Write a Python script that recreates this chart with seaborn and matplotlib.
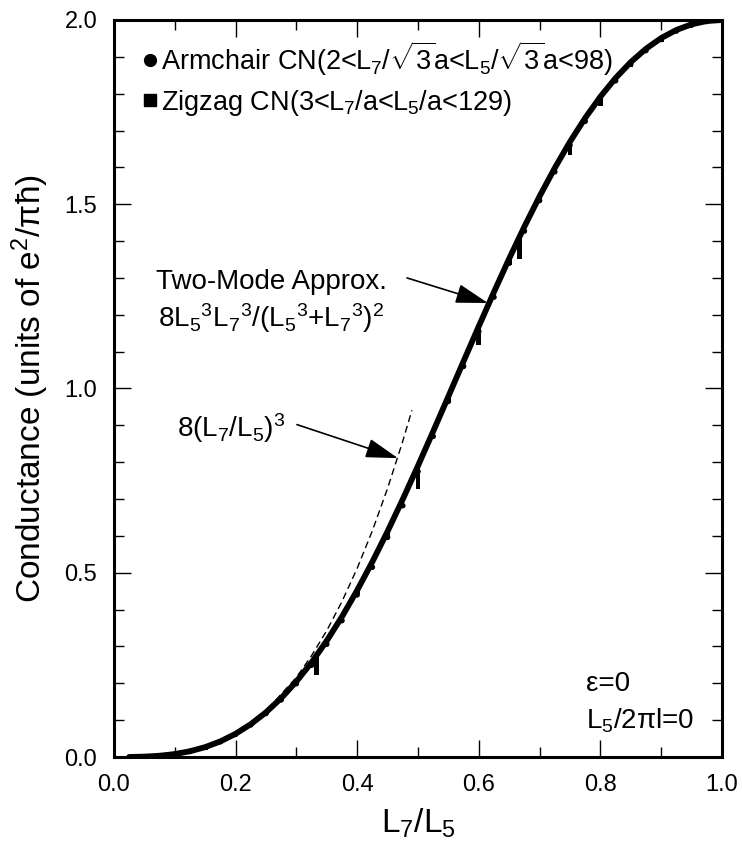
import matplotlib
matplotlib.use("Agg")
import matplotlib.pyplot as plt
from matplotlib.lines import Line2D
from matplotlib.ticker import MultipleLocator
import pandas as pd
import seaborn as sns

# two-mode approximation curve
two_mode_x = [0.025, 0.05, 0.075, 0.1, 0.125, 0.15, 0.175, 0.2, 0.225, 0.25, 0.275, 0.3,
              0.325, 0.35, 0.375, 0.4, 0.425, 0.45, 0.475, 0.5, 0.525, 0.55, 0.575, 0.6,
              0.625, 0.65, 0.675, 0.7, 0.725, 0.75, 0.775, 0.8, 0.825, 0.85, 0.875, 0.9,
              0.925, 0.95, 0.975, 1.0]
two_mode_y = [0.0001, 0.001, 0.0034, 0.008, 0.0156, 0.0268, 0.0424, 0.0630, 0.0891, 0.1212,
              0.1597, 0.2048, 0.2567, 0.3154, 0.3807, 0.4523, 0.5297, 0.6123, 0.6994, 0.7901,
              0.8835, 0.9784, 1.0738, 1.1686, 1.2618, 1.3523, 1.4391, 1.5214, 1.5983, 1.6694,
              1.7339, 1.7917, 1.8423, 1.8857, 1.9219, 1.9509, 1.9729, 1.9882, 1.9971, 2.0]

# small-ratio limit 8(L7/L5)^3 (dashed)
cubic_x = [0.0, 0.05, 0.1, 0.15, 0.2, 0.25, 0.3, 0.325, 0.35, 0.375, 0.4, 0.425, 0.45, 0.475, 0.49]
cubic_y = [0.0, 0.001, 0.008, 0.027, 0.064, 0.125, 0.216, 0.275, 0.343, 0.422, 0.512, 0.614,
           0.729, 0.857, 0.941]

# armchair nanotube points
arm_x = [0.03, 0.05, 0.075, 0.1, 0.125, 0.15, 0.175, 0.2, 0.225, 0.25, 0.275, 0.3, 0.325,
         0.35, 0.375, 0.4, 0.425, 0.45, 0.475, 0.5, 0.525, 0.55, 0.575, 0.6, 0.625, 0.65,
         0.675, 0.7, 0.725, 0.75, 0.775, 0.8, 0.825, 0.85, 0.875, 0.9, 0.925, 0.95, 0.975]
arm_y = [0.0002, 0.001, 0.0034, 0.0078, 0.0153, 0.0262, 0.0416, 0.0615, 0.0872, 0.118,
         0.155, 0.199, 0.249, 0.306, 0.370, 0.440, 0.515, 0.596, 0.682, 0.775, 0.870,
         0.965, 1.060, 1.155, 1.248, 1.340, 1.427, 1.510, 1.588, 1.660, 1.725, 1.784,
         1.835, 1.880, 1.917, 1.947, 1.970, 1.986, 1.996]

# zigzag nanotube points (stacks at simple ratios 1/3, 1/2, 3/5, 2/3, 3/4, 4/5)
zig_x = [0.05, 0.1, 0.15, 0.2, 0.25, 0.3,
         0.333, 0.333, 0.333, 0.333, 0.333, 0.333,
         0.35, 0.4, 0.45,
         0.5, 0.5, 0.5, 0.5, 0.5, 0.5, 0.5,
         0.55,
         0.6, 0.6, 0.6, 0.6, 0.6,
         0.65,
         0.667, 0.667, 0.667, 0.667, 0.667, 0.667, 0.667,
         0.7,
         0.75, 0.75, 0.75, 0.75,
         0.8, 0.8, 0.8,
         0.85, 0.9, 0.95]
zig_y = [0.001, 0.0079, 0.0265, 0.0625, 0.120, 0.203,
         0.268, 0.260, 0.252, 0.244, 0.236, 0.228,
         0.3125, 0.448, 0.606,
         0.787, 0.778, 0.769, 0.760, 0.751, 0.742, 0.733,
         0.970,
         1.165, 1.155, 1.145, 1.135, 1.125,
         1.342,
         1.409, 1.400, 1.391, 1.382, 1.373, 1.364, 1.357,
         1.512,
         1.667, 1.658, 1.649, 1.640,
         1.790, 1.782, 1.774,
         1.880, 1.948, 1.987]

arm_label = r"Armchair CN(2<L$_7$/$\sqrt{3}$a<L$_5$/$\sqrt{3}$a<98)"
zig_label = r"Zigzag CN(3<L$_7$/a<L$_5$/a<129)"

sns.set_style("ticks")
plt.rcParams["font.family"] = ["Liberation Sans", "DejaVu Sans"]
plt.rcParams["mathtext.fontset"] = "custom"
plt.rcParams["mathtext.rm"] = "Liberation Sans"
plt.rcParams["mathtext.it"] = "Liberation Sans"
plt.rcParams["mathtext.sf"] = "Liberation Sans"
plt.rcParams["text.color"] = "black"
plt.rcParams["axes.labelcolor"] = "black"
plt.rcParams["xtick.color"] = "black"
plt.rcParams["ytick.color"] = "black"

fig = plt.figure(figsize=(7.42, 8.5), dpi=100)
ax = fig.add_axes([0.1536, 0.1094, 0.8194, 0.8671])

curve = pd.DataFrame({"x": two_mode_x, "y": two_mode_y})
cubic = pd.DataFrame({"x": cubic_x, "y": cubic_y})
arm = pd.DataFrame({"x": arm_x, "y": arm_y})
zig = pd.DataFrame({"x": zig_x, "y": zig_y})

sns.lineplot(data=cubic, x="x", y="y", ax=ax, color="black", lw=1.0,
             linestyle=(0, (5, 3)), sort=False)
sns.lineplot(data=curve, x="x", y="y", ax=ax, color="black", lw=4.2, sort=False)
sns.scatterplot(data=arm, x="x", y="y", ax=ax, color="black", marker="o", s=16,
                edgecolor="none", legend=False)
sns.scatterplot(data=zig, x="x", y="y", ax=ax, color="black", marker="s", s=12,
                edgecolor="none", legend=False)

ax.set_xlim(0, 1.0)
ax.set_ylim(0, 2.0)
ax.xaxis.set_major_locator(MultipleLocator(0.2))
ax.xaxis.set_minor_locator(MultipleLocator(0.1))
ax.yaxis.set_major_locator(MultipleLocator(0.5))
ax.yaxis.set_minor_locator(MultipleLocator(0.1))
ax.xaxis.set_major_formatter(plt.FormatStrFormatter("%.1f"))
ax.yaxis.set_major_formatter(plt.FormatStrFormatter("%.1f"))
ax.tick_params(which="both", direction="in", top=True, right=True, color="black",
               labelcolor="black")
ax.tick_params(which="major", length=12, width=1.0, labelsize=17, pad=12)
ax.tick_params(which="minor", length=7, width=1.0)
for sp in ax.spines.values():
    sp.set_linewidth(2.2)
    sp.set_color("black")

ax.set_xlabel(r"L$_7$/L$_5$", fontsize=24, labelpad=8)
ax.set_ylabel(r"Conductance (units of e$^2$/πħ)", fontsize=24, labelpad=10)

# one legend per row so each row sits at its own height
legend_kw = dict(loc="center left", frameon=False, borderpad=0, handlelength=0.55,
                 handletextpad=0.15, prop={"family": "Liberation Sans", "size": 19.5})
leg1 = ax.legend([Line2D([], [], marker="o", color="black", ls="none", ms=8.5)], [arm_label],
                 bbox_to_anchor=(0.024, 0.948), **legend_kw)
ax.add_artist(leg1)
ax.legend([Line2D([], [], marker="s", color="black", ls="none", ms=8.5)], [zig_label],
          bbox_to_anchor=(0.024, 0.888), **legend_kw)

ax.text(0.069, 1.27, "Two-Mode Approx.", fontsize=20, va="baseline")
ax.text(0.072, 1.167, r"8L$_5{}^3$L$_7{}^3$/(L$_5{}^3$+L$_7{}^3$)$^2$", fontsize=20, va="baseline")
ax.text(0.104, 0.868, r"8(L$_7$/L$_5$)$^3$", fontsize=20, va="baseline")
ax.text(0.776, 0.18, "ε=0", fontsize=20, va="baseline")
ax.text(0.776, 0.078, r"L$_5$/2πl=0", fontsize=20, va="baseline")

arrow = dict(arrowstyle="-|>,head_length=1.0,head_width=0.3", color="black", lw=1.2,
             mutation_scale=20, shrinkA=0, shrinkB=0)
ax.annotate("", xy=(0.615, 1.232), xytext=(0.482, 1.30), arrowprops=arrow)
ax.annotate("", xy=(0.467, 0.811), xytext=(0.301, 0.902), arrowprops=arrow)

fig.savefig("out.png", dpi=100)
